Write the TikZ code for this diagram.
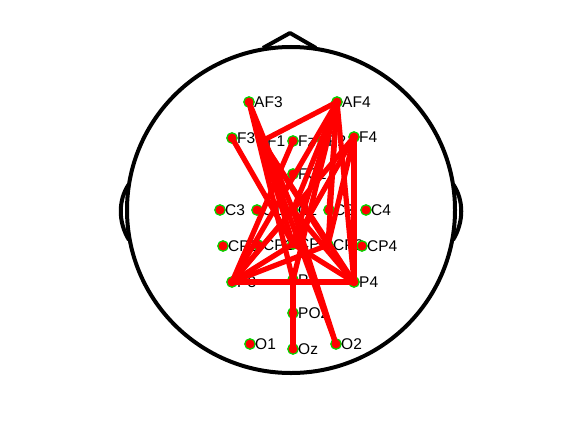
\documentclass[tikz,border=0pt]{standalone}
\usepackage{fontspec}
\setmainfont{Liberation Sans}
\begin{document}
\begin{tikzpicture}[x=1pt,y=-1pt,
  head/.style={line width=4pt,black},
  elec/.style={circle,fill=red,draw=green!85!black,line width=1.2pt,inner sep=0pt,minimum size=10.5pt},
  lab/.style={anchor=west,inner sep=0pt,font=\fontsize{15.5}{16}\selectfont},
  conn/.style={red,line width=5.2pt}]
\useasboundingbox (0,0) rectangle (561,420);
% head
\draw[head] (291,210) ellipse [x radius=164, y radius=163];
\draw[head,line join=round] (263,48) -- (290,33) -- (316,48);
\draw[head] (129,184) .. controls (118,200) and (118,222) .. (129,240);
\draw[head] (453,184) .. controls (464,200) and (464,222) .. (453,240);
% electrodes
\foreach \n/\x/\y in {AF3/249/102,AF4/337/102,F3/232/138,F1/262/141,Fz/293/141,F2/323/141,F4/354/137,
  FCz/293/174,C3/220/210,C1/257/210,Cz/293/210,C2/329/210,C4/366/210,
  CP3/223/246,CP1/258/245,CPz/293/244,CP2/328/245,CP4/362/246,
  P3/232/282,Pz/293/280,P4/354/282,POz/293/313,O1/250/344,Oz/293/349,O2/336/344}{
  \node[elec] (\n) at (\x,\y) {};
  \node[lab] at (\x+5,\y) {\n};
}
% connections
\foreach \a/\b in {AF4/F1,AF4/P3,AF4/CPz,AF4/Cz,AF4/CP2,AF4/P4,AF4/Pz,AF4/C2,
  AF3/CPz,AF3/Pz,AF3/Cz,
  F4/P3,F4/P4,F4/CPz,F4/CP2,
  F3/CPz,F1/CP2,F1/P4,
  P3/P4,P3/CP2,P3/CPz,P3/Cz,P3/Fz,
  P4/CPz,P4/Cz,Pz/Oz,O2/Cz,O2/F1}{
  \draw[conn] (\a.center) -- (\b.center);
}
\end{tikzpicture}
\end{document}
